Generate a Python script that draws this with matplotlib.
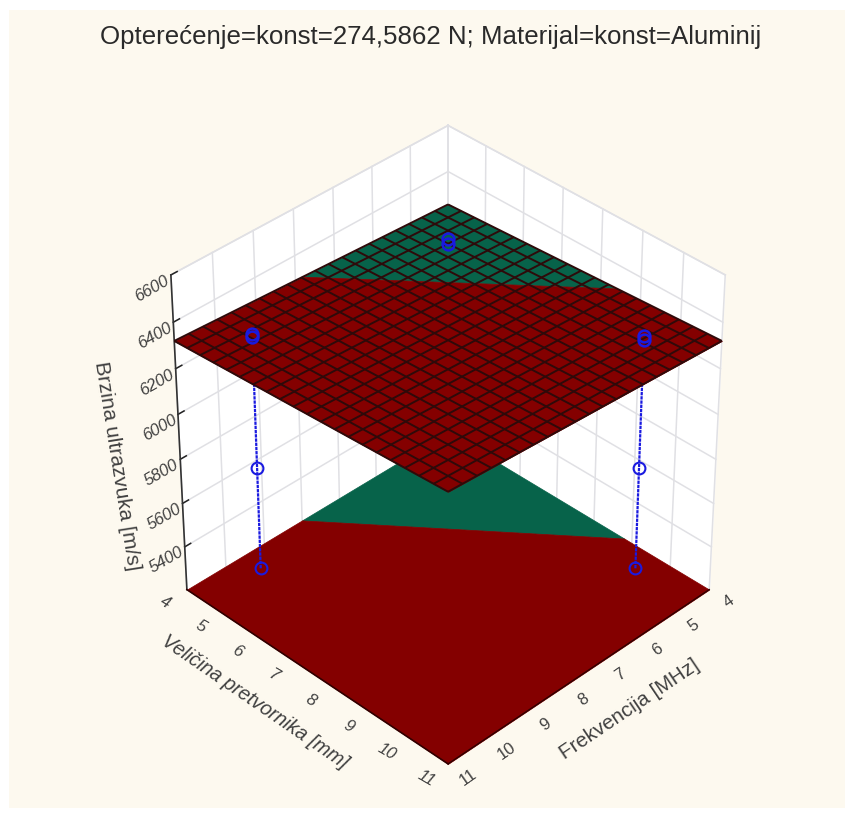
import numpy as np
import matplotlib
matplotlib.use('Agg')
import matplotlib.pyplot as plt
from matplotlib.patches import Rectangle
from mpl_toolkits.mplot3d.art3d import Poly3DCollection, Line3DCollection
from mpl_toolkits.mplot3d import proj3d

plt.rcParams['font.family'] = ['Liberation Sans', 'DejaVu Sans']

titulo = 'Opterećenje=konst=274,5862 N; Materijal=konst=Aluminij'
etiqueta_x = 'Frekvencija [MHz]'
etiqueta_y = 'Veličina pretvornika [mm]'
etiqueta_z = 'Brzina ultrazvuka [m/s]'

ticks_xy = [4, 5, 6, 7, 8, 9, 10, 11]
ticks_z = [5400, 5600, 5800, 6000, 6200, 6400, 6600]
z_min = 5200
z_max = 6600

# malla de la superficie superior (21 lineas por lado)
malla = np.linspace(4, 11, 21)
z_borde_atras = [6255, 6258, 6261, 6265, 6268, 6271, 6275, 6278, 6281, 6284, 6288,
                 6291, 6294, 6297, 6300, 6304, 6307, 6310, 6314, 6317, 6320]
z_borde_frente = [6320, 6324, 6328, 6331, 6335, 6339, 6342, 6346, 6350, 6354, 6358,
                  6361, 6365, 6369, 6372, 6376, 6380, 6384, 6388, 6391, 6395]

# zonas de color de la superficie superior
sup_verde_x = [4, 7.8, 4]
sup_verde_y = [4, 4, 8.4]
sup_verde_z = [6255, 6290, 6296]
sup_roja_x = [7.8, 11, 11, 4, 4]
sup_roja_y = [4, 4, 11, 11, 8.4]
sup_roja_z = [6290, 6320, 6395, 6320, 6296]

# zonas de color de la superficie inferior
inf_verde_x = [4, 8.0, 4]
inf_verde_y = [4, 4, 8.8]
inf_verde_z = [5200, 5200, 5200]
inf_roja_x = [8.0, 11, 11, 4, 4]
inf_roja_y = [4, 4, 11, 11, 8.8]
inf_roja_z = [5200, 5200, 5200, 5200, 5200]

# puntos medidos
puntos_x = [10, 5, 5]
puntos_y = [5, 10, 5]
puntos_z_bajo = [5300, 5300, 5300]
puntos_z_medio = [5760, 5760, 5760]
puntos_z_alto = [6335, 6325, 6285]
puntos_z_alto2 = [6350, 6340, 6265]

ROJO = '#840000'
VERDE = '#07634a'
AZUL = '#1a1ae0'
GRIS_TXT = '#404040'
GRIS_REJILLA = '#e0e0e4'


def poligono(ax, xs, ys, zs, color, zorder):
    verts = [list(zip(xs, ys, zs))]
    ax.add_collection3d(Poly3DCollection(verts, facecolors=color, edgecolors=color,
                                         linewidths=0.5, zorder=zorder))


def texto(ax, x, y, z, s, **kw):
    # Text3D ignora rotation, asi que se proyecta a mano
    xp, yp, _ = proj3d.proj_transform(x, y, z, ax.get_proj())
    ax.text2D(xp, yp, s, transform=ax.transData, color=GRIS_TXT, ha='center', va='center', **kw)


fig = plt.figure(figsize=(8.52, 8.18), dpi=100, facecolor='white')
fig.patches.append(Rectangle((9 / 852, 1 - 808 / 818), 836 / 852, 798 / 818, transform=fig.transFigure,
                             facecolor='#fdf9ef', edgecolor='none', zorder=-5, figure=fig))
ax = fig.add_axes([11 / 852, -39 / 818, 1, 1], projection='3d')
ax.patch.set_alpha(0)
ax.set_axis_off()
ax.computed_zorder = False
ax.set_proj_type('persp', focal_length=0.9)
ax.view_init(elev=37, azim=45)
ax.set_box_aspect((1, 1, 1.035), zoom=0.791)
ax.set_xlim(4, 11)
ax.set_ylim(4, 11)
ax.set_zlim(z_min, z_max)

# paredes
poligono(ax, [4, 11, 11, 4], [4, 4, 4, 4], [z_min, z_min, z_max, z_max], 'white', 0)
poligono(ax, [4, 4, 4, 4], [4, 11, 11, 4], [z_min, z_min, z_max, z_max], 'white', 0)

for t in ticks_xy:
    ax.plot([t, t], [4, 4], [z_min, z_max], color=GRIS_REJILLA, lw=1.1, zorder=1)
    ax.plot([4, 4], [t, t], [z_min, z_max], color=GRIS_REJILLA, lw=1.1, zorder=1)
for z in ticks_z:
    ax.plot([4, 11], [4, 4], [z, z], color=GRIS_REJILLA, lw=1.1, zorder=1)
    ax.plot([4, 4], [4, 11], [z, z], color=GRIS_REJILLA, lw=1.1, zorder=1)
    ax.plot([10.85, 11], [4, 4], [z, z], color='#222222', lw=1.1, zorder=1.5)
ax.plot([4, 11], [4, 4], [z_max, z_max], color=GRIS_REJILLA, lw=1.1, zorder=1)
ax.plot([4, 4], [4, 11], [z_max, z_max], color=GRIS_REJILLA, lw=1.1, zorder=1)
ax.plot([11, 11], [4, 4], [z_min, z_max], color='#333333', lw=1.2, zorder=1.5)

# superficie inferior
poligono(ax, inf_verde_x, inf_verde_y, inf_verde_z, VERDE, 2)
poligono(ax, inf_roja_x, inf_roja_y, inf_roja_z, ROJO, 2)
ax.plot([11, 11], [4, 11], [z_min, z_min], color='#300000', lw=1.2, zorder=2.1)
ax.plot([11, 4], [11, 11], [z_min, z_min], color='#300000', lw=1.0, zorder=2.1)

# columnas de puntos
for i in range(len(puntos_x)):
    ax.plot([puntos_x[i], puntos_x[i]], [puntos_y[i], puntos_y[i]],
            [puntos_z_bajo[i], puntos_z_alto[i]], color=AZUL, lw=1.6, ls=(0, (1.5, 0.4)), zorder=3)
ax.plot(puntos_x, puntos_y, puntos_z_bajo, ls='none', marker='o', ms=8.5, mfc='none', mec=AZUL, mew=1.5, zorder=4)
ax.plot(puntos_x, puntos_y, puntos_z_medio, ls='none', marker='o', ms=8.5, mfc='none', mec=AZUL, mew=1.5, zorder=4)

# superficie superior
poligono(ax, sup_verde_x, sup_verde_y, sup_verde_z, VERDE, 5)
poligono(ax, sup_roja_x, sup_roja_y, sup_roja_z, ROJO, 5)
lineas = []
for i in range(len(malla)):
    lineas.append([(malla[i], 4, z_borde_atras[i]), (malla[i], 11, z_borde_frente[i])])
    lineas.append([(4, malla[i], z_borde_atras[i]), (11, malla[i], z_borde_frente[i])])
ax.add_collection3d(Line3DCollection(lineas, colors='#2e0a0a', linewidths=1.4, zorder=6))

ax.plot(puntos_x, puntos_y, puntos_z_alto, ls='none', marker='o', ms=8.5, mfc='none', mec=AZUL, mew=1.8, zorder=7)
ax.plot(puntos_x, puntos_y, puntos_z_alto2, ls='none', marker='o', ms=8.5, mfc='none', mec=AZUL, mew=1.8, zorder=7)

# textos
for t in ticks_xy:
    texto(ax, t, 11.5, z_min, str(t), fontsize=12, rotation=35)
    texto(ax, 11.55, t, z_min, str(t), fontsize=12, rotation=-30, style='italic')
for z in ticks_z:
    texto(ax, 11.25, 3.75, z - 60, str(z), fontsize=12, rotation=30, style='italic')
texto(ax, 7.6, 12.3, z_min, etiqueta_x, fontsize=14.8, rotation=34)
texto(ax, 12.3, 7.3, z_min, etiqueta_y, fontsize=14.3, rotation=-34.5, style='italic')
texto(ax, 11.83, 3.17, 5770, etiqueta_z, fontsize=15, rotation=-81)
fig.text(431 / 852, 1 - 37 / 818, titulo, color='#2a2a2a', fontsize=18.6, ha='center', va='center')

plt.savefig('out.png', dpi=100)
